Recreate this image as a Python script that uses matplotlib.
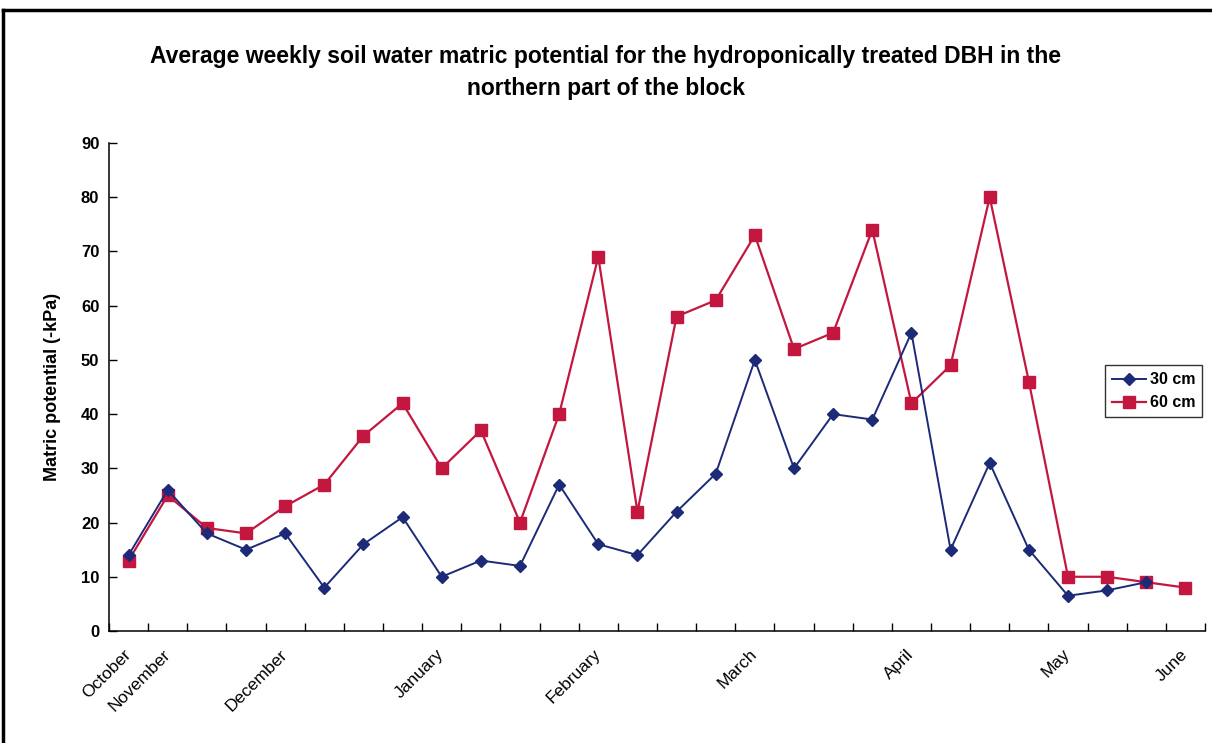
"""Average weekly soil water matric potential, northern part of the block."""

import matplotlib

matplotlib.use("Agg")
import matplotlib.pyplot as plt
from matplotlib.lines import Line2D
import numpy as np

plt.rcParams["font.family"] = ["Liberation Sans", "DejaVu Sans"]

# weekly readings, Oct -> Jun (28 weeks)
pot_30cm = [14, 26, 18, 15, 18, 8, 16, 21, 10, 13, 12, 27, 16, 14, 22, 29,
            50, 30, 40, 39, 55, 15, 31, 15, 6.5, 7.5, 9, np.nan]
pot_60cm = [13, 25, 19, 18, 23, 27, 36, 42, 30, 37, 20, 40, 69, 22, 58, 61,
            73, 52, 55, 74, 42, 49, 80, 46, 10, 10, 9, 8]
month_pos = [0, 1, 4, 8, 12, 16, 20, 24, 27]
month_names = ["October", "November", "December", "January", "February",
               "March", "April", "May", "June"]
y_ticks = list(range(0, 91, 10))

BLUE = "#1c2a78"
RED = "#c4173f"

fig = plt.figure(figsize=(12.12, 7.43), dpi=100)
ax = fig.add_axes([109 / 1212, 1 - 631 / 743, (1205 - 109) / 1212, (631 - 143) / 743])

weeks = np.arange(len(pot_60cm))
ax.plot(weeks, pot_30cm, color=BLUE, lw=1.4, marker="D", ms=6,
        markeredgecolor=BLUE, markerfacecolor=BLUE, label="30 cm", zorder=3)
ax.plot(weeks, pot_60cm, color=RED, lw=1.6, marker="s", ms=8.5,
        markeredgecolor=RED, markerfacecolor=RED, label="60 cm", zorder=2)

ax.set_xlim(-0.5, len(weeks) - 0.5)
ax.set_ylim(0, 90)
ax.set_yticks(y_ticks)
ax.set_yticklabels([str(v) for v in y_ticks], fontsize=12, fontweight="bold")
ax.tick_params(axis="y", direction="in", length=6, width=1, pad=7)

ax.set_xticks(month_pos)
ax.set_xticklabels(month_names, rotation=45, ha="right", va="center",
                   rotation_mode="anchor", fontsize=12.5)
ax.set_xticks(np.arange(-0.5, len(weeks)), minor=True)
ax.tick_params(axis="x", which="major", length=0, pad=15)
ax.tick_params(axis="x", which="minor", direction="in", length=6, width=1)

for side in ("top", "right"):
    ax.spines[side].set_visible(False)
for side in ("left", "bottom"):
    ax.spines[side].set_linewidth(1.1)

ax.set_ylabel("Matric potential (-kPa)", fontsize=13, fontweight="bold", labelpad=14)

fig.text(0.5, 1 - 57 / 743,
         "Average weekly soil water matric potential for the hydroponically treated DBH in the",
         ha="center", va="center", fontsize=16.5, fontweight="bold")
fig.text(0.5, 1 - 88 / 743, "northern part of the block",
         ha="center", va="center", fontsize=16.5, fontweight="bold")

leg = fig.legend(loc="upper left", bbox_to_anchor=(1105 / 1212, 1 - 365 / 743),
                 frameon=True, fancybox=False, edgecolor="black",
                 prop={"weight": "bold", "size": 11.5}, handlelength=2.1,
                 borderpad=0.45, labelspacing=0.5, handletextpad=0.25,
                 borderaxespad=0, markerscale=1.0)
leg.get_frame().set_linewidth(1.0)

# chart frame (left and top edges visible in the source)
fig.add_artist(Line2D([3 / 1212, 3 / 1212], [0, 1 - 10 / 743], color="black", lw=2.5,
                      transform=fig.transFigure))
fig.add_artist(Line2D([3 / 1212, 1], [1 - 10 / 743, 1 - 10 / 743], color="black", lw=2.5,
                      transform=fig.transFigure))

fig.savefig("out.png", dpi=100)
